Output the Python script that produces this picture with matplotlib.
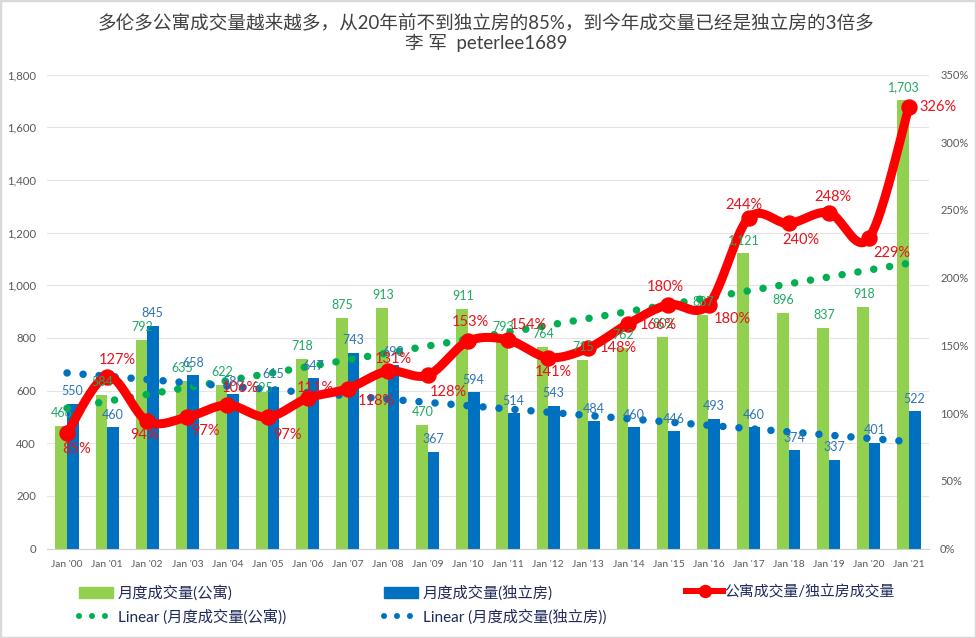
import matplotlib
matplotlib.use('Agg')
import matplotlib.pyplot as plt
from matplotlib.lines import Line2D
from matplotlib.patches import Patch, Rectangle
import numpy as np

plt.rcParams['font.family'] = ['Lato', 'Noto Sans CJK SC', 'DejaVu Sans']

# Chart data
years = ["Jan '00", "Jan '01", "Jan '02", "Jan '03", "Jan '04", "Jan '05", "Jan '06", "Jan '07",
         "Jan '08", "Jan '09", "Jan '10", "Jan '11", "Jan '12", "Jan '13", "Jan '14", "Jan '15",
         "Jan '16", "Jan '17", "Jan '18", "Jan '19", "Jan '20", "Jan '21"]
condo = [466, 584, 792, 635, 622, 595, 718, 875, 913, 470, 911, 793, 764, 715, 762, 802, 887,
         1121, 896, 837, 918, 1703]
house = [550, 460, 845, 658, 586, 615, 647, 743, 698, 367, 594, 514, 543, 484, 460, 446, 493,
         460, 374, 337, 401, 522]
ratio = [85, 127, 94, 97, 106, 97, 111, 118, 131, 128, 153, 154, 141, 148, 166, 180, 180,
         244, 240, 248, 229, 326]

# Label offsets in pixels, relative to the line point
ratio_offsets = [(10, -16), (10, 17), (-3, -14), (18, -14), (13, 17), (20, -18), (8, 10), (29, -12),
                 (6, 12), (20, -17), (2, 19), (20, 15), (5, -14), (30, 0), (30, -1), (-3, 18),
                 (24, -14), (-5, 13), (12, -17), (4, 16), (23, -15), (29, 0)]

GREEN = '#92D050'
BLUE = '#0070C0'
GREEN_DOT = '#00B050'
RED = '#FF0000'
GREY = '#595959'
PX = 72 / 100


def smooth_line(x, y, steps=24):
    # Catmull-Rom style curve through the points, like a smoothed Excel line
    x = np.asarray(x, float)
    y = np.asarray(y, float)
    xs, ys = [], []
    for i in range(len(x) - 1):
        p0 = max(i - 1, 0)
        p3 = min(i + 2, len(x) - 1)
        c1x, c1y = x[i] + (x[i + 1] - x[p0]) / 6, y[i] + (y[i + 1] - y[p0]) / 6
        c2x, c2y = x[i + 1] - (x[p3] - x[i]) / 6, y[i + 1] - (y[p3] - y[i]) / 6
        t = np.linspace(0, 1, steps)
        xs.extend((1 - t)**3 * x[i] + 3 * (1 - t)**2 * t * c1x + 3 * (1 - t) * t**2 * c2x + t**3 * x[i + 1])
        ys.extend((1 - t)**3 * y[i] + 3 * (1 - t)**2 * t * c1y + 3 * (1 - t) * t**2 * c2y + t**3 * y[i + 1])
    return xs, ys


W, H = 976, 638
fig = plt.figure(figsize=(W / 100, H / 100), dpi=100, facecolor='white')
ax = fig.add_axes([47 / W, 1 - 548.5 / H, 882 / W, 474 / H])
ax2 = ax.twinx()

x = np.arange(len(years))
bar_w = 0.29

ax.bar(x - bar_w / 2, condo, bar_w, color=GREEN, zorder=2)
ax.bar(x + bar_w / 2, house, bar_w, color=BLUE, zorder=2)

# Linear trends
dots = (0, (0.01, 2.13))
for vals, col in [(condo, GREEN_DOT), (house, BLUE)]:
    fit = np.polyfit(x, vals, 1)
    ax.plot(x, np.polyval(fit, x), color=col, lw=7.5 * PX, ls=dots, dash_capstyle='round', zorder=3)

ax.set_xlim(-0.5, len(years) - 0.5)
ax.set_ylim(0, 1800)
ax.set_yticks(range(0, 1801, 200))
ax.yaxis.set_major_formatter(lambda v, pos: f'{int(v):,}')
ax.set_xticks(x)
ax.set_xticklabels(years)
ax.grid(axis='y', color='#E4E4E4', lw=0.8, zorder=0)
ax.set_axisbelow(True)

ax2.set_ylim(0, 350)
ax2.set_yticks(range(0, 351, 50))
ax2.yaxis.set_major_formatter(lambda v, pos: f'{int(v)}%')
ax2.set_zorder(ax.get_zorder() + 1)
ax2.plot(*smooth_line(x, ratio), color=RED, lw=9 * PX, solid_capstyle='round', zorder=4)
ax2.plot(x, ratio, ls='none', marker='o', ms=15 * PX, color=RED, zorder=4)

for a in (ax, ax2):
    for s in a.spines.values():
        s.set_visible(False)
    a.tick_params(length=0, labelcolor=GREY)
ax.spines['bottom'].set_visible(True)
ax.spines['bottom'].set_color('#D0D0D0')
ax.tick_params(axis='y', labelsize=8.2, pad=8)
ax.tick_params(axis='x', labelsize=7.4, pad=8)
ax2.tick_params(axis='y', labelsize=8, pad=8)

# Data labels
for i in x:
    dy = 4 if i == 5 else 13
    ax2.annotate(f'{condo[i]:,}', (i, condo[i] * 350 / 1800), xytext=(-5 * PX, dy * PX), textcoords='offset points',
                 ha='center', va='center', fontsize=9, color='#1FA862', zorder=6)
    ax2.annotate(f'{house[i]:,}', (i, house[i] * 350 / 1800), xytext=(5.5 * PX, 12.5 * PX), textcoords='offset points',
                 ha='center', va='center', fontsize=9, color='#2E75B6', zorder=6)
    ox, oy = ratio_offsets[i]
    ax2.annotate(f'{ratio[i]}%', (i, ratio[i]), xytext=(ox * PX, oy * PX), textcoords='offset points',
                 ha='center', va='center', fontsize=10.5, color='#E8121C', zorder=7)

# Title
fig.text(486 / W, 1 - 22 / H, '多伦多公寓成交量越来越多，从20年前不到独立房的85%，到今年成交量已经是独立房的3倍多',
         ha='center', va='center', fontsize=13.4, color='#404040')
fig.text(486 / W, 1 - 43 / H, '李 军  peterlee1689', ha='center', va='center', fontsize=13.4, color='#404040')

# Legend, one block per column
legend_dots = (0, (0.01, 2.15))
col1 = [Patch(color=GREEN, label='月度成交量(公寓)'),
        Line2D([], [], color=GREEN_DOT, lw=6 * PX, ls=legend_dots, dash_capstyle='round', label='Linear (月度成交量(公寓))')]
col2 = [Patch(color=BLUE, label='月度成交量(独立房)'),
        Line2D([], [], color=BLUE, lw=6 * PX, ls=legend_dots, dash_capstyle='round', label='Linear (月度成交量(独立房))')]
col3 = [Line2D([], [], color=RED, lw=6 * PX, marker='o', ms=12 * PX, label='公寓成交量/独立房成交量')]
for handles, left, hlen, hpad, fsize in [(col1, 79, 2.2, 0.35, 11), (col2, 384, 2.2, 0.35, 11), (col3, 686, 2.5, 0.1, 10.7)]:
    fig.legend(handles=handles, loc='upper left', bbox_to_anchor=(left / W, 1 - 585 / H), frameon=False,
               fontsize=fsize, labelcolor='#1F2A5A', handlelength=hlen, handletextpad=hpad, labelspacing=0.55,
               borderpad=0, borderaxespad=0)

# Screenshot border
fig.add_artist(Rectangle((0, 0), 1, 1, transform=fig.transFigure, fill=False, ec='#D9D9D9', lw=2.5))

fig.savefig('out.png', dpi=100)
